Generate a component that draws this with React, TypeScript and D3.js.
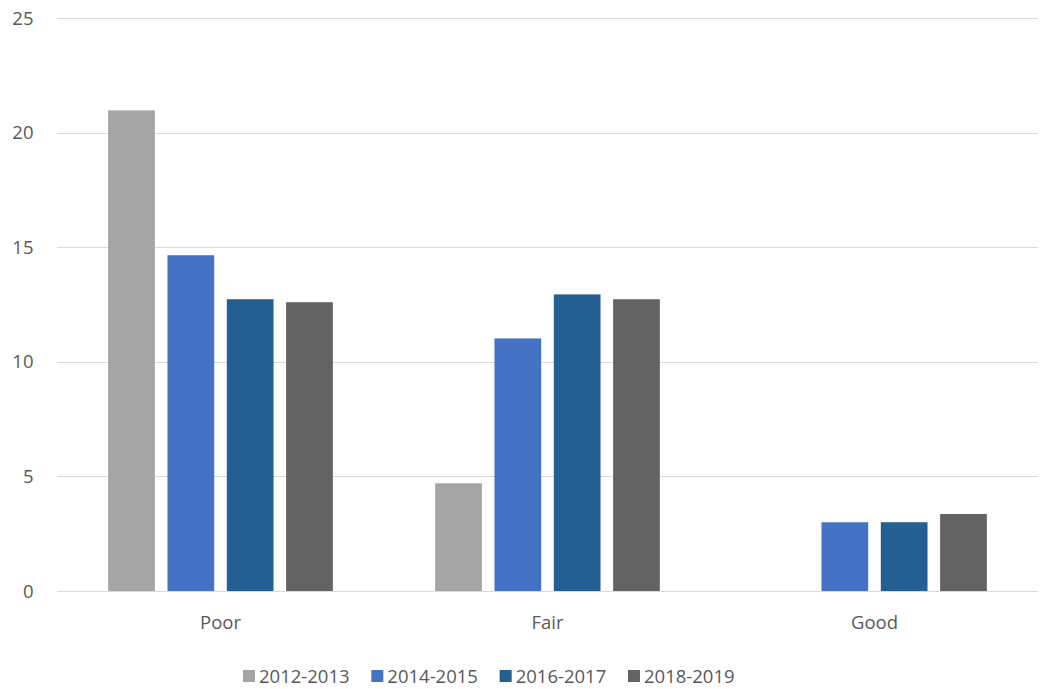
import React from "react";
import * as d3 from "d3";

const categories = ["Poor", "Fair", "Good"];
const seriesNames = ["2012-2013", "2014-2015", "2016-2017", "2018-2019"];
const s2012 = [20.97, 4.7, 0];
const s2014 = [14.65, 11.02, 3.0];
const s2016 = [12.73, 12.94, 3.0];
const s2018 = [12.6, 12.73, 3.36];
const seriesValues = [s2012, s2014, s2016, s2018];
const colors = ["#A5A5A5", "#4472C4", "#255E91", "#636363"];
const yTicks = [0, 5, 10, 15, 20, 25];

const W = 1041;
const H = 689;
const left = 57;
const right = 1038;
const top = 18;
const bottom = 591;
const font = "'Open Sans', sans-serif";
const fs = 18.5;
const textColor = "#595959";

export default function App() {
  const x = d3.scaleBand<string>().domain(categories).range([left, right]).paddingInner(0).paddingOuter(0);
  const groupW = 224.7;
  const off = (x.bandwidth() - groupW) / 2;
  const xi = d3.scaleBand<string>().domain(seriesNames).range([off, off + groupW]).paddingInner(0.2125).paddingOuter(0);
  const y = d3.scaleLinear().domain([0, 25]).range([bottom, top]);

  const legendX = d3.scaleLinear().domain([0, 3]).range([243, 628]);

  return (
    <svg width={W} height={H} style={{ position: "absolute", left: 0, top: 0, background: "#fff" }}>
      {yTicks.map((t) => (
        <g key={t}>
          <line x1={left} x2={right} y1={Math.round(y(t)) + 0.5} y2={Math.round(y(t)) + 0.5} stroke="#D9D9D9" strokeWidth={1} />
          <text x={33.5} y={y(t)} dy="0.36em" textAnchor="end" fontFamily={font} fontSize={fs} fill={textColor}>
            {t}
          </text>
        </g>
      ))}
      {categories.map((c, ci) => (
        <g key={c} transform={`translate(${x(c)},0)`}>
          {seriesNames.map((s, si) => {
            const v = seriesValues[si][ci];
            if (!v) return null;
            return (
              <rect key={s} x={xi(s)} y={y(v)} width={xi.bandwidth()} height={y(0) - y(v)} fill={colors[si]} />
            );
          })}
          <text x={x.bandwidth() / 2} y={629} textAnchor="middle" fontFamily={font} fontSize={fs} fill={textColor}>
            {c}
          </text>
        </g>
      ))}
      {seriesNames.map((s, si) => (
        <g key={s} transform={`translate(${legendX(si)},0)`}>
          <rect x={0} y={670} width={12} height={12} fill={colors[si]} />
          <text x={16} y={683} fontFamily={font} fontSize={fs} fill={textColor}>
            {s}
          </text>
        </g>
      ))}
    </svg>
  );
}
